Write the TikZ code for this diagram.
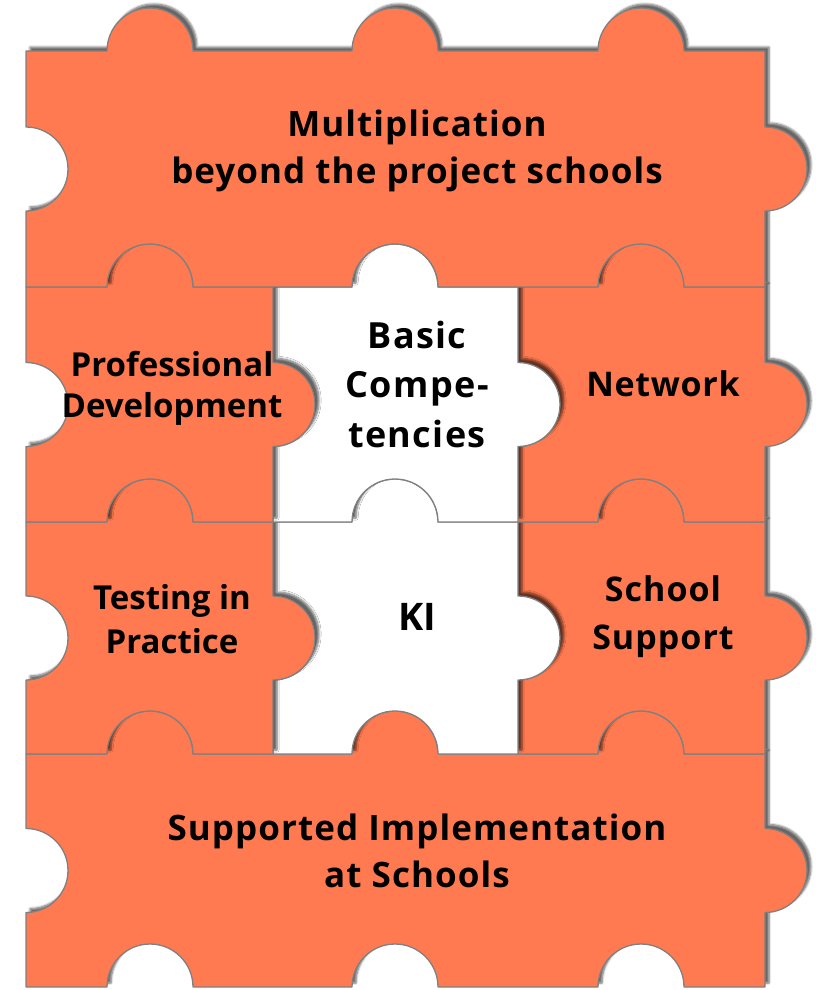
\documentclass[tikz,border=0pt]{standalone}
\usepackage{fontspec}
\setmainfont{Open Sans}
\usetikzlibrary{shadows.blur}
\definecolor{puzzleorange}{RGB}{255,122,80}
\definecolor{edgegray}{RGB}{128,128,128}
% #1 fill, #2 x0, #3 y0, #4 x1, #5 y1, #6 knobs left to right, #7 knobs right to left
\newcommand{\piece}[7]{
    \draw[piece, fill=#1] (#2,#3)
        \foreach \k in {#6} {-- (\k-43,#3) arc[start angle=180, delta angle=180, radius=43]}
        -- (#4,#3)
        -- (#4,{(#3+#5)/2-42}) arc[start angle=270, delta angle=180, radius=42]
        -- (#4,#5)
        \foreach \k in {#7} {-- (\k+43,#5) arc[start angle=0, delta angle=-180, radius=43]}
        -- (#2,#5)
        -- (#2,{(#3+#5)/2+42}) arc[start angle=90, delta angle=-180, radius=42]
        -- cycle;
}
% size, line distance, letter spacing
\newcommand{\lbl}[3]{\bfseries\fontsize{#1}{#2}\selectfont\addfontfeature{LetterSpace=#3}}

\begin{document}
\begin{tikzpicture}[
        x=1pt,
        y=1pt,
        yscale=-1,
        piece/.style={draw=edgegray, line width=1.3pt, line join=round,
            blur shadow={shadow xshift=4pt, shadow yshift=4pt, shadow opacity=60, shadow blur steps=6}},
        every node/.style={align=center, text=black}
    ]
    \useasboundingbox (0,0) rectangle (816,990);

    % bottom row first, so the rows above lie on top
    \piece{puzzleorange}{26}{754}{765}{987}{150,395,641}{641,395,150}
    \piece{puzzleorange}{518}{522}{765}{754}{641}{641}
    \piece{white}{273}{522}{518}{754}{395}{395}
    \piece{puzzleorange}{26}{522}{273}{754}{150}{150}
    \piece{puzzleorange}{518}{287}{765}{522}{641}{641}
    \piece{white}{273}{287}{518}{522}{395}{395}
    \piece{puzzleorange}{26}{287}{273}{522}{150}{150}
    \piece{puzzleorange}{26}{51}{765}{287}{150,395,641}{641,395,150}

    \node[font=\lbl{35}{47}{3}] (multi) at (417,151) {Multiplication\\beyond the project schools};
    \node[font=\lbl{33}{41}{0}] (profdev) at (172,388) {Professional\\Development};
    \node[font=\lbl{36}{49.5}{4}] (basic) at (417,384) {Basic\\Compe-\\tencies};
    \node[font=\lbl{34}{44}{2}] (network) at (663,384) {Network};
    \node[font=\lbl{33}{44}{0}] (testing) at (172,619) {Testing in\\Practice};
    \node[font=\lbl{38}{44}{0}] (ki) at (417,617) {KI};
    \node[font=\lbl{34}{48}{3}] (support) at (663,617) {School\\Support};
    \node[font=\lbl{35}{47}{3}] (implement) at (417,851) {Supported Implementation\\at Schools};
\end{tikzpicture}
\end{document}
